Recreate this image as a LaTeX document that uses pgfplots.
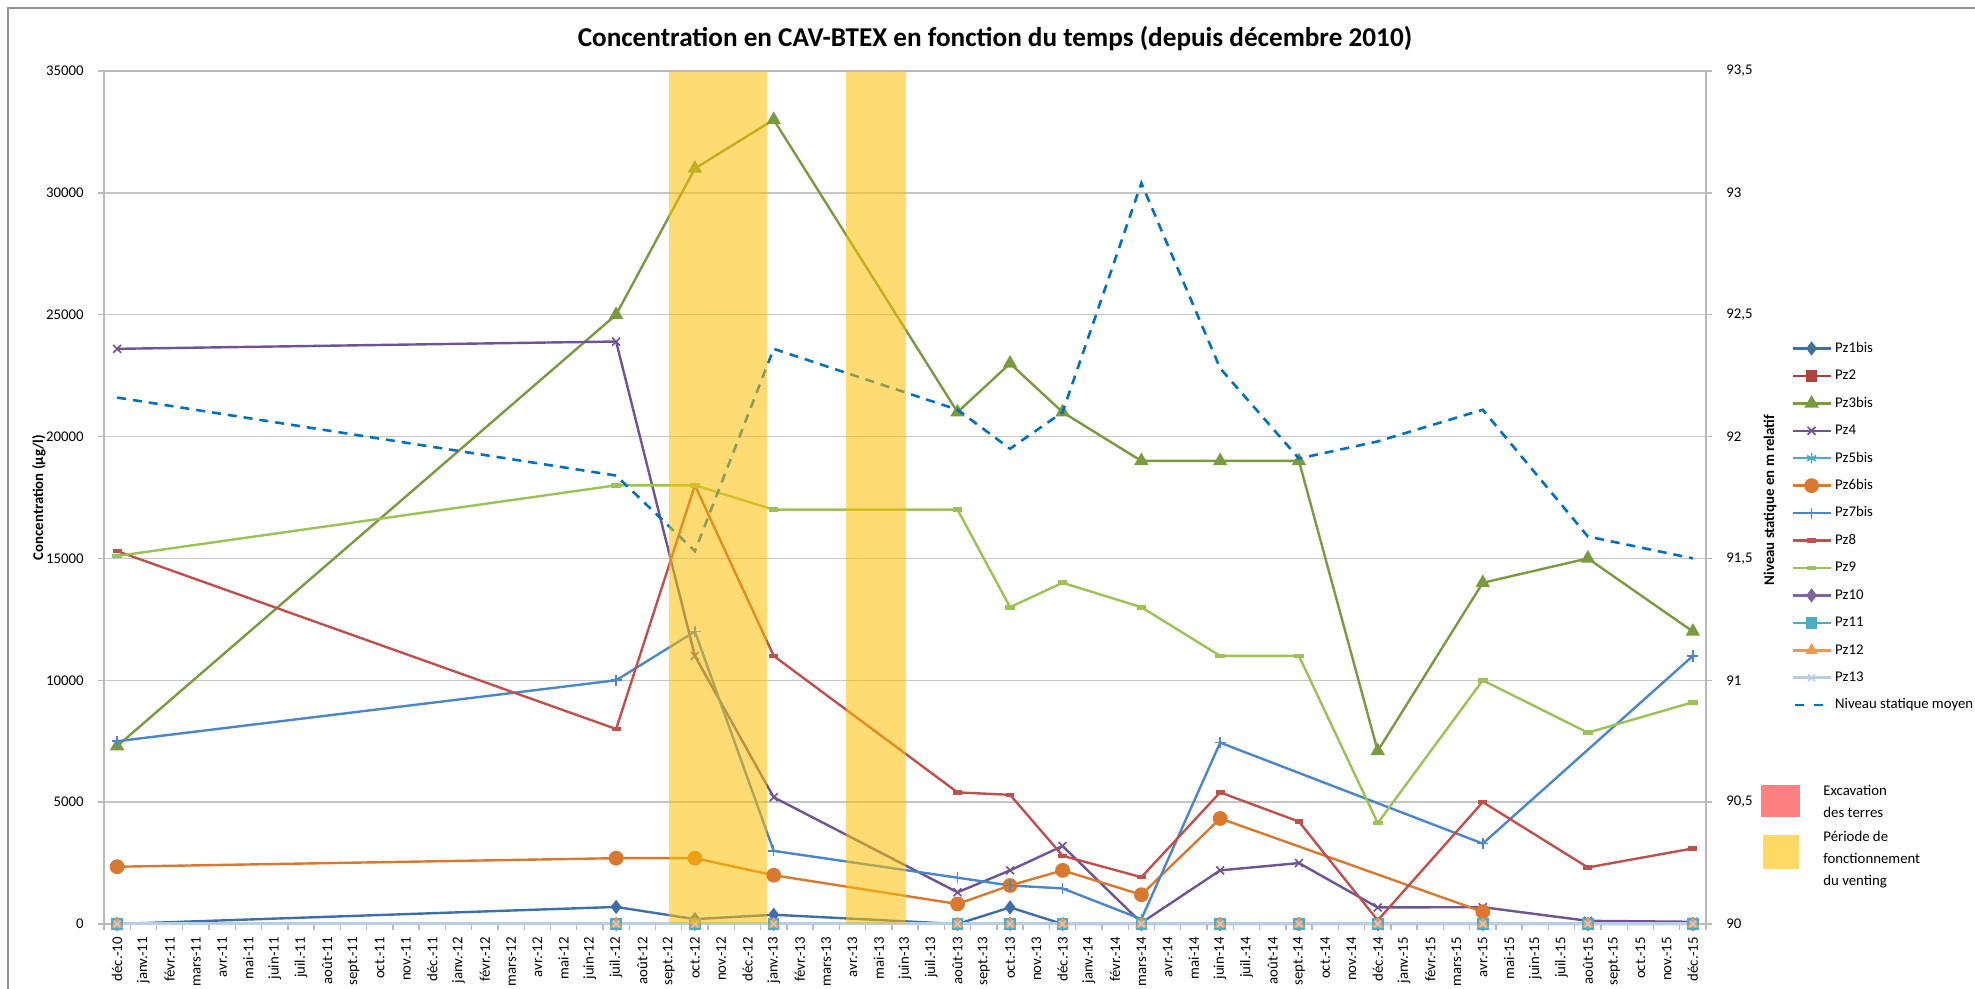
\documentclass[border=0pt]{standalone}
\usepackage{fontspec}
\setmainfont{Carlito}
\usepackage{pgfplots}
\pgfplotsset{compat=1.18}

\definecolor{cPzA}{HTML}{3F6FAA}
\definecolor{cPzB}{HTML}{B0413E}
\definecolor{cPzC}{HTML}{7A9A40}
\definecolor{cPzD}{HTML}{6E5494}
\definecolor{cPzE}{HTML}{4BACC6}
\definecolor{cPzF}{HTML}{D9782F}
\definecolor{cPzG}{HTML}{4A86C8}
\definecolor{cPzH}{HTML}{C0504D}
\definecolor{cPzI}{HTML}{9BC255}
\definecolor{cPzJ}{HTML}{8064A2}
\definecolor{cPzK}{HTML}{4BACC6}
\definecolor{cPzL}{HTML}{F79646}
\definecolor{cPzM}{HTML}{B9CDE5}
\definecolor{cNiv}{HTML}{0070C0}
\definecolor{bandc}{HTML}{FFC000}
\definecolor{cExc}{HTML}{FF8080}
\definecolor{cVent}{HTML}{FFD966}
\newcommand{\tfont}{\fontsize{7.4}{8.5}\selectfont}

\begin{document}
\begin{tikzpicture}
\useasboundingbox (0,0) rectangle (987.5pt,494.5pt);
\fill[white] (0,0) rectangle (987.5pt,494.5pt);
\draw[color=gray!85, line width=0.75pt] (4pt,-2pt) -- (4pt,490.5pt) -- (992pt,490.5pt);

\begin{axis}[
  at={(52pt,32.5pt)}, anchor=south west, scale only axis,
  width=801pt, height=426.5pt,
  xmin=-0.5, xmax=60.5, ymin=0, ymax=35000,
  clip=false,
  axis line style={gray!55, line width=0.7pt},
  ymajorgrids, grid style={gray!45, line width=0.7pt},
  ytick={0,5000,10000,15000,20000,25000,30000,35000},
  xtick={0,...,60},
  minor xtick={-0.5,0.5,...,60.5},
  xtick pos=bottom, ytick pos=left,
  tick align=outside,
  major tick length=3pt, minor tick length=3pt,
  major x tick style={draw=none},
  minor x tick style={gray!55, line width=0.7pt},
  major y tick style={gray!55, line width=0.7pt},
  xticklabels={déc.-10,
    janv.-11,févr.-11,mars-11,avr.-11,mai-11,juin-11,juil.-11,août-11,sept.-11,oct.-11,nov.-11,déc.-11,
    janv.-12,févr.-12,mars-12,avr.-12,mai-12,juin-12,juil.-12,août-12,sept.-12,oct.-12,nov.-12,déc.-12,
    janv.-13,févr.-13,mars-13,avr.-13,mai-13,juin-13,juil.-13,août-13,sept.-13,oct.-13,nov.-13,déc.-13,
    janv.-14,févr.-14,mars-14,avr.-14,mai-14,juin-14,juil.-14,août-14,sept.-14,oct.-14,nov.-14,déc.-14,
    janv.-15,févr.-15,mars-15,avr.-15,mai-15,juin-15,juil.-15,août-15,sept.-15,oct.-15,nov.-15,déc.-15},
  xticklabel style={yshift=-3.5pt, rotate=90, anchor=east, inner sep=0pt, font=\tfont},
  yticklabel style={xshift=-7pt, anchor=east, inner sep=0pt, font=\tfont},
  /pgf/number format/assume math mode=true,
  /pgf/number format/1000 sep={},
  scaled y ticks=false,
  ylabel={Concentration (µg/l)},
  every axis y label/.style={at={(axis description cs:-0.0406,0.5)}, anchor=center, rotate=90, font=\tfont\bfseries},
  legend cell align=left,
  legend style={
    at={(axis description cs:1.0531,0.6829)}, anchor=north west,
    draw=none, fill=none, inner sep=0pt, outer sep=0pt,
    font=\tfont, row sep=6.72pt,
    nodes={inner sep=0pt, text height=5.4pt, text depth=1.6pt},
    /tikz/every odd column/.append style={column sep=1.5pt},
  },
  legend image code/.code={\draw[mark repeat=2,mark phase=2,#1] plot coordinates {(0pt,0pt) (9.5pt,0pt) (19pt,0pt)};},
  every axis plot/.append style={line width=1.2pt, mark options={solid}},
]
% Pz1bis
\addplot[color=cPzA, mark=diamond*, mark size=2.6pt, mark options={fill=cPzA}] coordinates {
 (0,0) (19,700) (22,200) (25,380) (32,0) (34,680) (36,0) (39,0) (42,0) (45,0) (48,0) (52,0) (56,0) (60,0)};
\addlegendentry{Pz1bis}
% Pz2
\addplot[color=cPzB, mark=square*, mark size=2.2pt, mark options={fill=cPzB}] coordinates {
 (0,0) (19,0) (22,0) (25,0) (32,0) (34,0) (36,0) (39,0) (42,0) (45,0) (48,0) (52,0) (56,0) (60,0)};
\addlegendentry{Pz2}
% Pz3bis
\addplot[color=cPzC, mark=triangle*, mark size=3pt, mark options={fill=cPzC}] coordinates {
 (0,7300) (19,25000) (22,31000) (25,33000) (32,21000) (34,23000) (36,21000) (39,19000) (42,19000) (45,19000) (48,7100) (52,14000) (56,15000) (60,12000)};
\addlegendentry{Pz3bis}
% Pz4
\addplot[color=cPzD, mark=x, mark size=2.8pt, mark options={line width=0.8pt}] coordinates {
 (0,23600) (19,23900) (22,11000) (25,5200) (32,1300) (34,2200) (36,3200) (39,50) (42,2200) (45,2500) (48,680) (52,690) (56,130) (60,90)};
\addlegendentry{Pz4}
% Pz5bis
\addplot[color=cPzE, mark=asterisk, mark size=2.6pt, mark options={line width=0.8pt}] coordinates {
 (0,0) (19,0) (22,0) (25,0) (32,0) (34,0) (36,0) (39,0) (42,0) (45,0) (48,0) (52,0) (56,0) (60,0)};
\addlegendentry{Pz5bis}
% Pz6bis
\addplot[color=cPzF, mark=*, mark size=3.1pt, mark options={fill=cPzF}] coordinates {
 (0,2350) (19,2700) (22,2700) (25,2000) (32,820) (34,1580) (36,2200) (39,1200) (42,4330) (52,500)};
\addlegendentry{Pz6bis}
% Pz7bis
\addplot[color=cPzG, mark=+, mark size=2.8pt, mark options={line width=0.8pt}] coordinates {
 (0,7500) (19,10000) (22,12000) (25,3000) (32,1900) (34,1580) (36,1460) (39,200) (42,7440) (52,3300) (60,11000)};
\addlegendentry{Pz7bis}
% Pz8
\addplot[color=cPzH, mark=-, mark size=2.2pt, mark options={line width=2.2pt}] coordinates {
 (0,15300) (19,8000) (22,18000) (25,11000) (32,5400) (34,5300) (36,2800) (39,1920) (42,5400) (45,4200) (48,150) (52,5000) (56,2320) (60,3100)};
\addlegendentry{Pz8}
% Pz9
\addplot[color=cPzI, mark=-, mark size=2.4pt, mark options={line width=2.4pt}] coordinates {
 (0,15100) (19,18000) (22,18000) (25,17000) (32,17000) (34,13000) (36,14000) (39,13000) (42,11000) (45,11000) (48,4140) (52,10000) (56,7850) (60,9100)};
\addlegendentry{Pz9}
% Pz10
\addplot[color=cPzJ, mark=diamond*, mark size=2.6pt, mark options={fill=cPzJ}] coordinates {
 (0,0) (19,0) (22,0) (25,0) (32,0) (34,0) (36,0) (39,0) (42,0) (45,0) (48,0) (52,0) (56,0) (60,0)};
\addlegendentry{Pz10}
% Pz11
\addplot[color=cPzK, mark=square*, mark size=2.3pt, mark options={fill=cPzK}] coordinates {
 (0,0) (19,0) (22,0) (25,0) (32,0) (34,0) (36,0) (39,0) (42,0) (45,0) (48,0) (52,0) (56,0) (60,0)};
\addlegendentry{Pz11}
% Pz12
\addplot[color=cPzL, mark=triangle*, mark size=2.4pt, mark options={fill=cPzL}] coordinates {
 (0,0) (19,0) (22,0) (25,0) (32,0) (34,0) (36,0) (39,0) (42,0) (45,0) (48,0) (52,0) (56,0) (60,0)};
\addlegendentry{Pz12}
% Pz13
\addplot[color=cPzM, line width=1.5pt, mark=x, mark size=2.4pt, mark options={line width=0.8pt}] coordinates {
 (0,0) (19,0) (22,0) (25,0) (32,0) (34,0) (36,0) (39,0) (42,0) (45,0) (48,0) (52,0) (56,0) (60,0)};
\addlegendentry{Pz13}
\addlegendimage{color=cNiv, line width=1.3pt, dash pattern=on 4.5pt off 5pt, dash phase=-1pt}
\addlegendentry{Niveau statique moyen}
\end{axis}

\begin{axis}[
  at={(52pt,32.5pt)}, anchor=south west, scale only axis,
  width=801pt, height=426.5pt,
  xmin=-0.5, xmax=60.5, ymin=90, ymax=93.5,
  clip=false,
  axis x line=none, axis y line*=right,
  axis line style={gray!55, line width=0.7pt},
  ytick={90,90.5,91,91.5,92,92.5,93,93.5},
  tick align=outside, major tick length=3pt,
  major y tick style={gray!55, line width=0.7pt},
  yticklabel style={xshift=7pt, anchor=west, inner sep=0pt, font=\tfont},
  /pgf/number format/assume math mode=true,
  /pgf/number format/use comma,
  /pgf/number format/fixed,
  /pgf/number format/1000 sep={},
  ylabel={Niveau statique en m relatif},
  every axis y label/.style={at={(axis description cs:1.04,0.497)}, anchor=center, rotate=90, font=\tfont\bfseries},
]
\addplot[color=cNiv, line width=1.3pt, dash pattern=on 4.5pt off 3.5pt] coordinates {
 (0,92.16) (19,91.84) (22,91.53) (25,92.36) (32,92.11) (34,91.95) (36,92.10) (39,93.04) (42,92.28) (45,91.91) (48,91.98) (52,92.11) (56,91.59) (60,91.50)};
\addplot[draw=none, fill=bandc, fill opacity=0.55] coordinates {(21,90) (21,93.5) (24.75,93.5) (24.75,90)} --cycle;
\addplot[draw=none, fill=bandc, fill opacity=0.55] coordinates {(27.75,90) (27.75,93.5) (30.05,93.5) (30.05,90)} --cycle;
\end{axis}

\node[font=\fontsize{13.6}{16}\selectfont\bfseries, anchor=base] at (497.5pt,471pt)
  {Concentration en CAV-BTEX en fonction du temps (depuis décembre 2010)};

\fill[cExc] (880.5pt,86pt) rectangle (900pt,102pt);
\node[anchor=west, align=left, font=\fontsize{7.4}{11}\selectfont, inner sep=0pt] at (911.5pt,94pt) {Excavation\\des terres};
\fill[cVent] (881.5pt,60pt) rectangle (899.5pt,77pt);
\node[anchor=west, align=left, font=\fontsize{7.4}{11}\selectfont, inner sep=0pt] at (911.5pt,64.5pt) {Période de\\fonctionnement\\du venting};
\end{tikzpicture}
\end{document}
